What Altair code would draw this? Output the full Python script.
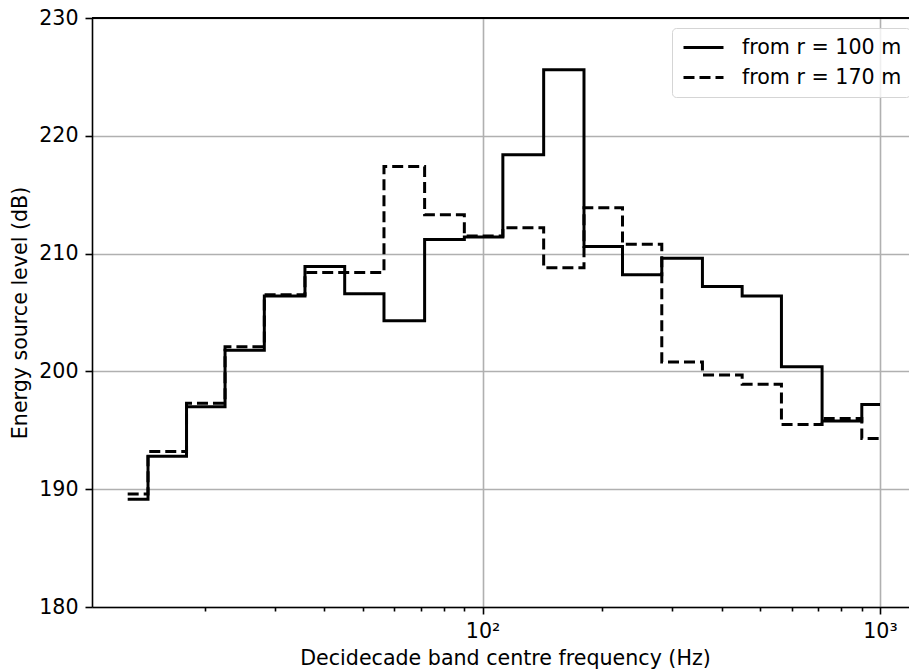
import altair as alt
import pandas as pd

# Decidecade band centre frequencies (Hz)
freq_hz = [12.8, 16, 20, 25, 31.5, 40, 50, 63, 80, 100,
           125, 160, 200, 250, 315, 400, 500, 630, 800, 1000]

# Energy source level per band (dB), estimated from two ranges
level_r100 = [189.15, 192.8, 197.0, 201.8, 206.4, 208.9, 206.6, 204.3, 211.2, 211.4,
              218.4, 225.6, 210.6, 208.2, 209.6, 207.2, 206.4, 200.4, 195.8, 197.2]
level_r170 = [189.6, 193.2, 197.3, 202.1, 206.5, 208.4, 208.4, 217.4, 213.3, 211.5,
              212.2, 208.8, 213.9, 210.8, 200.8, 199.7, 198.9, 195.5, 196.0, 194.3]

series_names = ["from r = 100 m", "from r = 170 m"]

y_ticks = [180, 190, 200, 210, 220, 230]
x_major = [100, 1000]
x_minor = [20, 30, 40, 50, 60, 70, 80, 90, 200, 300, 400, 500, 600, 700, 800, 900]

# Step outline with the level changing halfway between neighbouring centres
rows = []
for name, levels in zip(series_names, [level_r100, level_r170]):
    xs = [freq_hz[0]] + [(a + b) / 2 for a, b in zip(freq_hz[:-1], freq_hz[1:])] + [freq_hz[-1]]
    ys = levels + [levels[-1]]
    for k, (xv, yv) in enumerate(zip(xs, ys)):
        rows.append({"series": name, "freq": xv, "level": yv, "k": k})
df = pd.DataFrame(rows)

W, H = 817, 589
FS = 20.6
is_major = "datum.value == 100 || datum.value == 1000"

x_enc = alt.X(
    "freq:Q",
    scale=alt.Scale(type="log", domain=[10.41, 1183], nice=False),
    axis=alt.Axis(
        values=sorted(x_minor + x_major),
        labelExpr="datum.value == 100 ? '10²' : datum.value == 1000 ? '10³' : ''",
        tickSize={"condition": {"test": is_major, "value": 7}, "value": 4},
        gridOpacity={"condition": {"test": is_major, "value": 1}, "value": 0},
        labelPadding=7,
        labelOverlap=False,
        labelFlush=False,
        title="Decidecade band centre frequency (Hz)",
        titleX=413,
        titleY=51,
        titleAlign="center",
        titleBaseline="middle",
    ),
)

y_enc = alt.Y(
    "level:Q",
    scale=alt.Scale(domain=[180, 230], nice=False, zero=False),
    axis=alt.Axis(
        values=y_ticks,
        tickSize=7,
        labelPadding=7,
        title="Energy source level (dB)",
        titleAngle=270,
        titleX=-72,
        titleY=H / 2,
        titleAlign="center",
        titleBaseline="middle",
    ),
)

lines = alt.Chart(df).mark_line(
    interpolate="step-after", color="black", strokeWidth=3, strokeCap="butt"
).encode(
    x=x_enc,
    y=y_enc,
    order="k:Q",
    strokeDash=alt.StrokeDash(
        "series:N",
        scale=alt.Scale(domain=series_names, range=[[1, 0], [11, 5]]),
        legend=alt.Legend(
            title=None,
            orient="none",
            legendX=580,
            legendY=10,
            symbolType="M-2,0H2",
            symbolSize=400,
            symbolStrokeWidth=3,
            symbolStrokeColor="black",
            symbolOffset=12,
            labelOffset=27,
            padding=8,
            rowPadding=7,
            labelFont="DejaVu Sans",
            labelFontSize=FS,
            labelColor="black",
            labelLimit=0,
            fillColor="rgba(255,255,255,0.8)",
            strokeColor="#d5d5d5",
            cornerRadius=4,
        ),
    ),
)

# Top spine of the axes frame
top_spine = alt.Chart(df).mark_rule(color="black", strokeWidth=1.6).encode(
    x=alt.value(0), x2=alt.value(W), y=alt.value(0)
)

chart = alt.layer(lines, top_spine).properties(
    width=W,
    height=H,
    padding={"left": 92, "top": 18, "right": 0, "bottom": 65},
    autosize=alt.AutoSizeParams(type="none"),
    background="white",
).configure_view(
    strokeWidth=0
).configure_axis(
    labelFont="DejaVu Sans",
    titleFont="DejaVu Sans",
    labelFontSize=FS,
    titleFontSize=FS,
    labelColor="black",
    titleColor="black",
    titleFontWeight="normal",
    domainColor="black",
    domainWidth=1.6,
    tickColor="black",
    tickWidth=1.6,
    gridColor="#b0b0b0",
    gridWidth=1.6,
)

chart.save("out.html", embed_options={"renderer": "svg", "actions": False})
